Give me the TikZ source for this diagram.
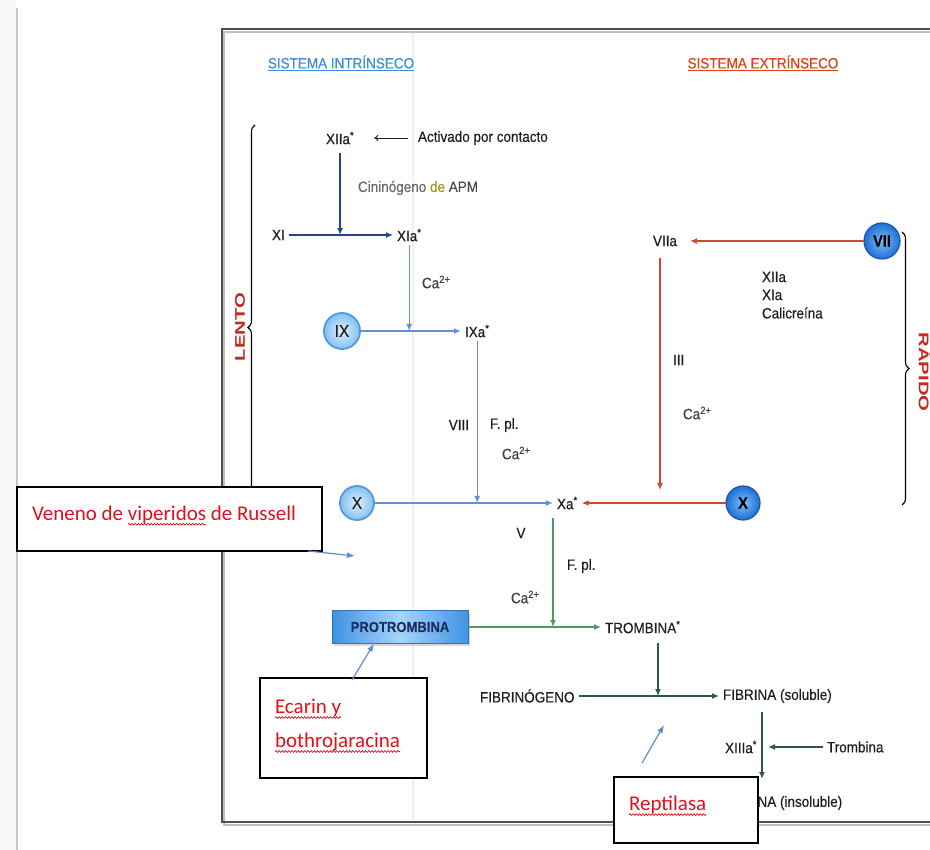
\documentclass[tikz,border=0pt]{standalone}
\usepackage{fontspec}
\setmainfont{Liberation Sans}[FakeStretch=0.9, FakeBold=0.35]
\newfontfamily\widefont{Liberation Sans}
\newfontfamily\calfont{Carlito}
\usetikzlibrary{arrows.meta,decorations.pathreplacing,decorations.pathmorphing,shadows}
\definecolor{txt}{HTML}{1E1E1E}
\definecolor{graytxt}{HTML}{6A6A6A}
\definecolor{olivetxt}{HTML}{A09A1E}
\definecolor{navy}{HTML}{24448F}
\definecolor{lblue}{HTML}{6390D4}
\definecolor{redarr}{HTML}{D0492C}
\definecolor{green1}{HTML}{4E9A64}
\definecolor{dgreen}{HTML}{2A5C3E}
\definecolor{titleblue}{HTML}{3E8EDB}
\definecolor{titlered}{HTML}{E0421C}
\definecolor{bracered}{HTML}{C8281E}
\definecolor{annot}{HTML}{E3101C}
\definecolor{annarrow}{HTML}{5B8FD0}
\definecolor{framec}{HTML}{4E4E4E}
\definecolor{ringlight}{HTML}{4F9BE0}
\definecolor{ballin}{HTML}{DCEFFD}
\definecolor{ballout}{HTML}{86C0F0}
\definecolor{darkin}{HTML}{7CC0FA}
\definecolor{darkout}{HTML}{1F6ED2}
\definecolor{darkring}{HTML}{1A56B0}
\definecolor{protside}{HTML}{3F92E4}
\definecolor{protmid}{HTML}{A6D5FA}
\definecolor{prottxt}{HTML}{1E2E5C}
\begin{document}
\begin{tikzpicture}[x=1pt,y=-1pt,
  lbl/.style={font=\fontsize{15}{17}\selectfont, text=txt, inner sep=0pt, outer sep=4pt},
  titlelbl/.style={font=\fontsize{15}{17}\selectfont, inner sep=0pt, outer sep=0pt},
  arrtip/.style={-{Latex[length=7pt,width=6pt]}},
  navyarr/.style={arrtip, draw=navy, line width=1.8pt},
  bluearr/.style={arrtip, draw=lblue, line width=1.3pt},
  redarrow/.style={arrtip, draw=redarr, line width=2pt},
  grarr/.style={arrtip, draw=green1, line width=1.4pt},
  dgarr/.style={arrtip, draw=dgreen, line width=1.8pt},
  thinarr/.style={-{To[length=4pt,width=6pt]}, draw=txt, line width=0.9pt},
  annarr/.style={-{Latex[length=8pt,width=6pt]}, draw=annarrow, line width=1.2pt},
  lightball/.style={circle, draw=ringlight, line width=1.8pt, inner color=ballin, outer color=ballout,
    minimum size=#1, inner sep=0pt, outer sep=0pt, text=txt, font=\fontsize{17}{17}\selectfont},
  darkball/.style={circle, draw=darkring, line width=1.2pt, inner color=darkin, outer color=darkout,
    minimum size=#1, inner sep=0pt, outer sep=0pt, text=black, font=\bfseries\fontsize{16}{16}\selectfont},
  bracec/.style={decorate, decoration={brace, amplitude=7pt}, draw=black, line width=1.1pt},
  sidelbl/.style={font=\widefont\bfseries\fontsize{14}{14}\selectfont, text=bracered, inner sep=0pt},
  annbox/.style={draw=black, line width=1.5pt, fill=white, inner sep=0pt, outer sep=0pt, anchor=north west},
  anntxt/.style={font=\calfont\fontsize{21}{25}\selectfont, text=annot, inner sep=0pt, outer sep=0pt},
  wavy/.style={decorate, decoration={snake, amplitude=0.9pt, segment length=3.2pt}, draw=annot, line width=0.7pt}
]
\useasboundingbox (0,0) rectangle (930,850);
\fill[white] (0,0) rectangle (930,850);
\fill[black!3] (0,0) rectangle (16,850);
\draw[black!22, line width=1.5pt] (17,8) -- (17,850);
\draw[black!6, line width=1.5pt] (413,31) -- (413,821);
% frame
\draw[black!25, line width=2pt] (930,32) -- (224,32) -- (224,825) -- (930,825);
\draw[framec, line width=2.4pt] (930,29) -- (222,29) -- (222,822) -- (930,822);

% titles
\node[titlelbl, text=titleblue] (t1) at (341,62) {SISTEMA INTRÍNSECO};
\draw[titleblue, line width=1pt] ([yshift=-2pt]t1.south west) -- ([yshift=-2pt]t1.south east);
\node[titlelbl, text=titlered] (t2) at (763,62) {SISTEMA EXTRÍNSECO};
\draw[titlered, line width=1pt] ([yshift=-2pt]t2.south west) -- ([yshift=-2pt]t2.south east);

% intrinsic
\node[lbl, anchor=west] (xiia) at (322,138) {XIIa\textsuperscript{*}};
\node[lbl, anchor=west] (act) at (414,138) {Activado por contacto};
\node[lbl, anchor=west] (cin) at (354,188) {\textcolor{graytxt}{Cininógeno} \textcolor{olivetxt}{de} \textcolor{black!70}{APM}};
\node[lbl, anchor=west] (xi) at (268,235) {XI};
\node[lbl, anchor=west] (xia) at (393,235) {XIa\textsuperscript{*}};
\node[lbl, anchor=west, text=black!75] (ca1) at (418,282) {Ca\textsuperscript{2+}};
\node[lightball=36] (ix) at (342,331) {IX};
\node[lbl, anchor=west] (ixa) at (461,331) {IXa\textsuperscript{*}};
\node[lbl, anchor=east] (viii) at (473,425) {VIII};
\node[lbl, anchor=west] (fpl1) at (486,425) {F. pl.};
\node[lbl, anchor=west, text=black!75] (ca2) at (498,453) {Ca\textsuperscript{2+}};
\node[lightball=34] (xl) at (357,503) {X};
\node[lbl, anchor=west] (xa) at (553,503) {Xa\textsuperscript{*}};

% extrinsic
\node[darkball=36] (vii) at (882,241) {VII};
\node[lbl, anchor=west] (viia) at (649,241) {VIIa};
\node[lbl, anchor=west] (l1) at (758,277) {XIIa};
\node[lbl, anchor=west] (l2) at (758,295) {XIa};
\node[lbl, anchor=west] (l3) at (758,313) {Calicreína};
\node[lbl, anchor=west] (iii) at (669,360) {III};
\node[lbl, anchor=west, text=black!75] (ca3) at (679,413) {Ca\textsuperscript{2+}};
\node[darkball=34] (xr) at (743,503) {X};

% common
\node[lbl] (v) at (521,533) {V};
\node[lbl, anchor=west] (fpl2) at (563,566) {F. pl.};
\node[lbl, anchor=west, text=black!75] (ca4) at (507,597) {Ca\textsuperscript{2+}};
\node[draw=protside!80!black, line width=0.6pt, left color=protside, right color=protside, middle color=protmid,
      minimum width=136pt, minimum height=33pt, inner sep=0pt, outer sep=0pt,
      drop shadow={opacity=0.3, shadow xshift=2pt, shadow yshift=-2.5pt},
      font=\bfseries\fontsize{14.5}{16}\selectfont, text=prottxt] (prot) at (400,627) {PROTROMBINA};
\node[lbl, anchor=west] (tromb) at (601,627) {TROMBINA\textsuperscript{*}};
\node[lbl, anchor=west] (fibg) at (476,696) {FIBRINÓGENO};
\node[lbl, anchor=west] (fibs) at (719,696) {FIBRINA (soluble)};
\node[lbl, anchor=east] (xiiia) at (761,747) {XIIIa\textsuperscript{*}};
\node[lbl, anchor=west] (trb) at (823,747) {Trombina};
\node[lbl, anchor=west] (fibi) at (719,803) {FIBRINA (insoluble)};

% connectors intrinsic
\draw[thinarr, shorten <=6pt, shorten >=16pt] (act.west) -- (xiia.east);
\draw[navyarr, shorten <=5pt] (xiia.south) -- (xiia.south |- xi.center);
\draw[navyarr] (xi.east) -- (xia.west);
\draw[bluearr] (xia.south) -- (xia.south |- ix.center);
\draw[bluearr, line width=1.6pt] (ix.east) -- (ix.east -| ixa.west);
\draw[bluearr] (ixa.south) -- (ixa.south |- xl.center);
\draw[bluearr, line width=1.6pt] (xl.east) -- (xl.east -| xa.west);

% connectors extrinsic
\draw[redarrow, shorten >=9pt] (vii.west) -- (vii.west -| viia.east);
\coordinate (r1) at (660,258);
\coordinate (r2) at (660,490);
\draw[redarrow, line width=1.6pt] (r1) -- (r2);
\draw[redarrow] (xr.west) -- (xr.west -| xa.east);

% connectors common
\coordinate (g1) at (553,518);
\draw[grarr] (g1) -- (g1 |- prot.east);
\draw[grarr, line width=1.8pt] (prot.east) -- (prot.east -| tromb.west);
\coordinate (g2) at (658,643);
\draw[dgarr, line width=1.5pt] (g2) -- (g2 |- fibg.east);
\draw[dgarr] (fibg.east) -- (fibg.east -| fibs.west);
\coordinate (g3) at (762,712);
\coordinate (g4) at (762,779);
\draw[dgarr, line width=1.5pt] (g3) -- (g4);
\draw[dgarr, shorten >=7pt] (trb.west) -- (trb.west -| xiiia.east);

% braces
\draw[bracec] (255,530) -- (255,125);
\node[sidelbl, rotate=90] (lento) at (240,327) {\scalebox{1.45}[1]{LENTO}};
\draw[bracec] (902,232) -- (902,505);
\node[sidelbl, rotate=-90] (rapido) at (925,372) {\scalebox{1.45}[1]{RÁPIDO}};

% annotation boxes
\node[annbox, minimum width=305pt, minimum height=64pt] (venbox) at (17,487) {};
\node[anntxt, anchor=west] (v1) at (32,513) {Veneno de};
\node[anntxt, anchor=base west] (v2) at ([xshift=4.7pt]v1.base east) {viperidos};
\node[anntxt, anchor=base west] (v3) at ([xshift=4.7pt]v2.base east) {de Russell};
\draw[wavy] ([yshift=-4pt]v2.base west) -- ([yshift=-4pt]v2.base east);
\coordinate (venTip) at (355,556);
\draw[annarr] ([xshift=-14pt]venbox.south east) -- (venTip);

\node[annbox, minimum width=167pt, minimum height=100pt] (ecbox) at (260,678) {};
\node[anntxt, anchor=west] (e1) at (275,708) {Ecarin y};
\node[anntxt, anchor=west] (e2) at (275,742) {bothrojaracina};
\draw[wavy] ([yshift=-4pt]e1.base west) -- ([yshift=-4pt]e1.base east);
\draw[wavy] ([yshift=-4pt]e2.base west) -- ([yshift=-4pt]e2.base east);
\draw[annarr] ([xshift=8.5pt, yshift=-2pt]ecbox.north) -- ([xshift=-26pt]prot.south);

\node[annbox, minimum width=144pt, minimum height=66pt] (repbox) at (614,777) {};
\node[anntxt, anchor=west] (r3) at (629,805) {Reptilasa};
\draw[wavy] ([yshift=-4pt]r3.base west) -- ([yshift=-4pt]r3.base east);
\coordinate (repStart) at (642,763);
\coordinate (repTip) at (664,725);
\draw[annarr] (repStart) -- (repTip);
\end{tikzpicture}
\end{document}
